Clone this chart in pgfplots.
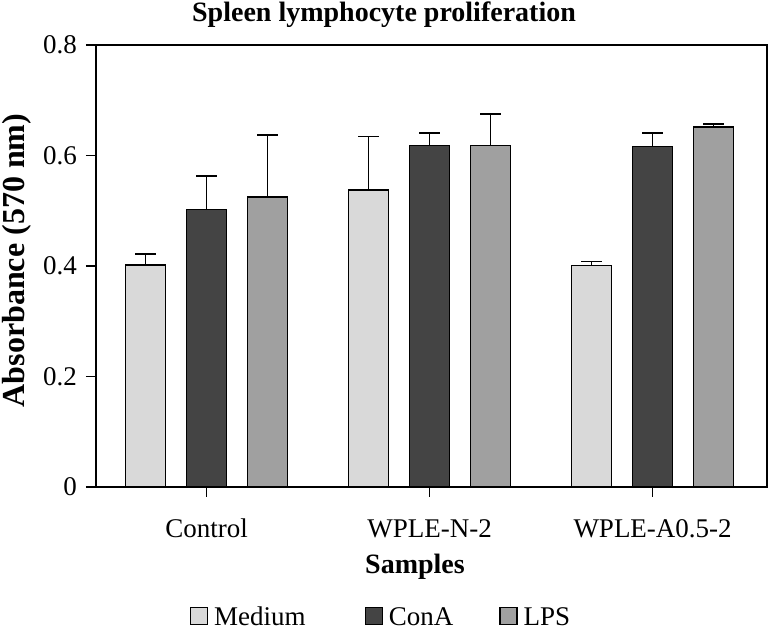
\documentclass[border=0pt]{standalone}
\usepackage{fontspec}
\setmainfont{Liberation Serif}
\usepackage{pgfplots}
\pgfplotsset{compat=1.18}
\definecolor{cMed}{HTML}{D9D9D9}
\definecolor{cCon}{HTML}{444444}
\definecolor{cLps}{HTML}{A0A0A0}
\begin{document}
\fontsize{27}{32}\selectfont
\begin{tikzpicture}
\useasboundingbox (-96pt,-144pt) rectangle (672pt,487pt);
\pgfplotsset{sqleg/.style={legend image code/.code={\draw[##1, draw=black, line width=1.2pt] (0pt,-6pt) rectangle (17pt,11pt);}}}
\begin{axis}[
  at={(0pt,0pt)}, anchor=south west, scale only axis,
  width=671pt, height=442pt,
  xmin=-0.496, xmax=2.513, ymin=0, ymax=0.8,
  ybar=21pt, bar width=40pt,
  xtick={0,1,2}, xticklabels={Control, WPLE-N-2, WPLE-A0.5-2},
  ytick={0,0.2,0.4,0.6,0.8},
  tick align=outside, major tick length=10pt,
  xtick pos=left, ytick pos=left,
  axis line style={line width=1.5pt},
  tick style={line width=1.5pt, black},
  /pgf/number format/assume math mode=true,
  yticklabel style={/pgf/number format/fixed},
  xticklabel style={yshift=-13pt},
  error bars/y dir=plus, error bars/y explicit,
  error bars/error mark options={rotate=90, mark size=10.5pt, line width=1.5pt, black},
  error bars/error bar style={line width=1.5pt, black},
  legend style={at={(0.4247,-0.3258)}, anchor=south, draw=none, fill=none,
    legend columns=3, inner sep=0pt, nodes={inner ysep=1pt},
    /tikz/every odd column/.append style={column sep=4pt},
    /tikz/column 2/.append style={column sep=57pt},
    /tikz/column 4/.append style={column sep=44pt}},
]
\addplot[fill=cMed, draw=black, line width=1.5pt, sqleg] coordinates {(0,0.402) +- (0,0.020) (1,0.538) +- (0,0.096) (2,0.401) +- (0,0.007)};
\addlegendentry{Medium}
\addplot[fill=cCon, draw=black, line width=1.5pt, sqleg] coordinates {(0,0.502) +- (0,0.061) (1,0.618) +- (0,0.023) (2,0.616) +- (0,0.025)};
\addlegendentry{ConA}
\addplot[fill=cLps, draw=black, line width=1.5pt, sqleg] coordinates {(0,0.525) +- (0,0.112) (1,0.618) +- (0,0.057) (2,0.652) +- (0,0.005)};
\addlegendentry{LPS}
\end{axis}
\node[font=\bfseries\fontsize{28}{32}\selectfont, anchor=base] at (288pt,465.5pt) {Spleen lymphocyte proliferation};
\node[font=\bfseries\fontsize{28}{32}\selectfont, anchor=base] at (319pt,-87pt) {Samples};
\node[font=\bfseries\fontsize{32}{34}\selectfont, anchor=base, rotate=90] at (-71pt,226.5pt) {Absorbance (570 nm)};
\end{tikzpicture}
\end{document}
